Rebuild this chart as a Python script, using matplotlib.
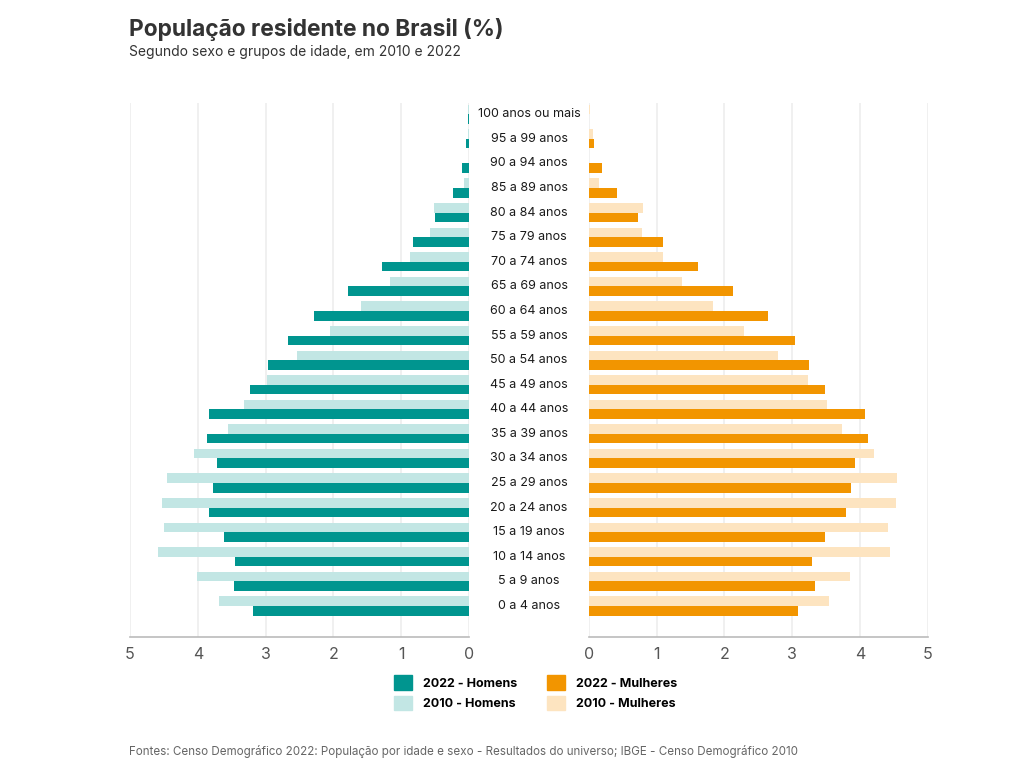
import numpy as np
import matplotlib.pyplot as plt
from matplotlib.patches import Patch

plt.rcParams['font.family'] = ['Inter', 'DejaVu Sans']

# === DATA (% of population) ===
ages = ["0 a 4 anos", "5 a 9 anos", "10 a 14 anos", "15 a 19 anos", "20 a 24 anos",
        "25 a 29 anos", "30 a 34 anos", "35 a 39 anos", "40 a 44 anos", "45 a 49 anos",
        "50 a 54 anos", "55 a 59 anos", "60 a 64 anos", "65 a 69 anos", "70 a 74 anos",
        "75 a 79 anos", "80 a 84 anos", "85 a 89 anos", "90 a 94 anos", "95 a 99 anos",
        "100 anos ou mais"]
homens_2022 = [3.18, 3.46, 3.45, 3.61, 3.83, 3.77, 3.71, 3.86, 3.84, 3.23, 2.97,
               2.67, 2.28, 1.78, 1.29, 0.82, 0.50, 0.24, 0.10, 0.04, 0.01]
homens_2010 = [3.69, 4.01, 4.59, 4.50, 4.53, 4.45, 4.05, 3.56, 3.32, 2.98, 2.53,
               2.05, 1.59, 1.17, 0.87, 0.57, 0.51, 0.07, 0.0, 0.02, 0.02]
mulheres_2022 = [3.08, 3.33, 3.29, 3.48, 3.80, 3.87, 3.92, 4.12, 4.08, 3.49, 3.25,
                 3.04, 2.64, 2.12, 1.61, 1.09, 0.73, 0.42, 0.20, 0.07, 0.01]
mulheres_2010 = [3.55, 3.85, 4.45, 4.42, 4.53, 4.54, 4.21, 3.73, 3.51, 3.23, 2.79,
                 2.29, 1.83, 1.38, 1.10, 0.78, 0.80, 0.15, 0.0, 0.06, 0.02]
ticks = [0, 1, 2, 3, 4, 5]

# === STYLE ===
TEAL = "#00958f"
TEAL_LIGHT = "#c2e6e4"
ORANGE = "#f29500"
ORANGE_LIGHT = "#fde4c0"
GRID = "#ededed"
BAR_H = 0.39

y = np.arange(len(ages))

fig = plt.figure(figsize=(10.24, 7.68), dpi=100)
ax_l = fig.add_axes([0.127, 0.1706, 0.331, 0.695])
ax_r = fig.add_axes([0.575, 0.1706, 0.331, 0.695])

ax_l.barh(y + BAR_H / 2, homens_2010, height=BAR_H, color=TEAL_LIGHT, zorder=2)
ax_l.barh(y - BAR_H / 2, homens_2022, height=BAR_H, color=TEAL, zorder=2)
ax_r.barh(y + BAR_H / 2, mulheres_2010, height=BAR_H, color=ORANGE_LIGHT, zorder=2)
ax_r.barh(y - BAR_H / 2, mulheres_2022, height=BAR_H, color=ORANGE, zorder=2)

for ax in (ax_l, ax_r):
    ax.set_ylim(-1.26, 20.45)
    ax.set_xticks(ticks)
    ax.set_yticks([])
    ax.grid(axis='x', color=GRID, linewidth=1.2, zorder=0)
    for s in ("top", "right", "left"):
        ax.spines[s].set_visible(False)
    ax.spines["bottom"].set_color("#bbbbbb")
    ax.spines["bottom"].set_linewidth(1.2)
    ax.tick_params(axis='x', length=0, pad=7, labelsize=11.5, labelcolor="#555555")

ax_l.set_xlim(5, 0)
ax_r.set_xlim(0, 5)

# age labels in the middle
for i, lab in enumerate(ages):
    ax_r.text(-0.88, i, lab, ha='center', va='center', fontsize=9, color="#1a1a1a",
              clip_on=False)

# titles
fig.text(0.126, 0.961, "População residente no Brasil (%)", fontsize=16.4,
         fontweight='bold', color="#333333", va='center')
fig.text(0.126, 0.932, "Segundo sexo e grupos de idade, em 2010 e 2022", fontsize=10,
         color="#333333", va='center')

# legend
handles = [Patch(color=TEAL, label="2022 - Homens"),
           Patch(color=TEAL_LIGHT, label="2010 - Homens"),
           Patch(color=ORANGE, label="2022 - Mulheres"),
           Patch(color=ORANGE_LIGHT, label="2010 - Mulheres")]
fig.legend(handles=handles, ncol=2, loc='center', bbox_to_anchor=(0.523, 0.098),
           frameon=False, prop={'weight': 'bold', 'size': 9},
           handlelength=1.4, handleheight=1.4, columnspacing=2.4,
           labelspacing=0.5, handletextpad=0.9)

fig.text(0.126, 0.021, "Fontes: Censo Demográfico 2022: População por idade e sexo - "
         "Resultados do universo; IBGE - Censo Demográfico 2010",
         fontsize=8.35, color="#666666", va='center')

fig.savefig("out.png", dpi=100, facecolor='white')
